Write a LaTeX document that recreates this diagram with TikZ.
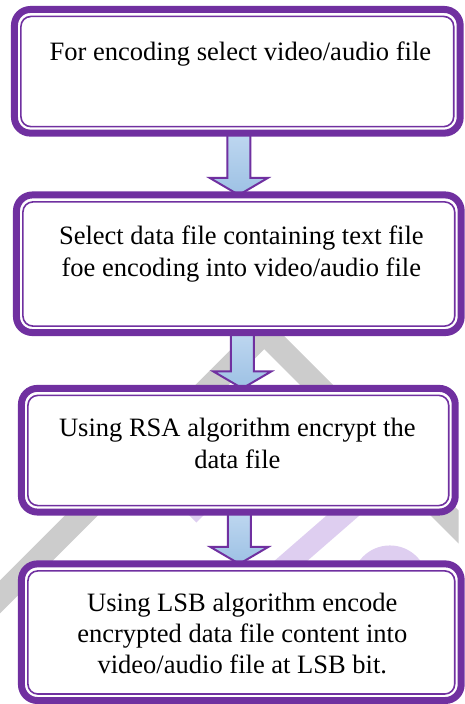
\documentclass[tikz,border=0pt]{standalone}
\usepackage{fontspec}
\setmainfont{Liberation Serif}[Ligatures=TeX]
\newfontfamily\stepfont{Liberation Serif}
\usetikzlibrary{calc,backgrounds}
\definecolor{boxpurple}{RGB}{112,48,160}
\definecolor{arrtop}{RGB}{190,215,240}
\definecolor{arrbot}{RGB}{157,193,228}
\definecolor{wmgray}{RGB}{204,204,204}
\definecolor{wmlav}{RGB}{222,206,240}
\tikzset{
  flowbox/.style={rectangle, rounded corners=16pt, draw=boxpurple, line width=7pt,
    fill=white, inner sep=0pt, outer sep=0pt},
  innerline/.style={draw=boxpurple, line width=1.6pt, rounded corners=10pt},
  flowarr/.style={draw=boxpurple, line width=2pt, line join=miter,
    top color=arrtop, bottom color=arrbot},
  steptext/.style={anchor=north, inner sep=0pt, align=center,
    font=\stepfont\fontsize{26.6}{32}\selectfont},
}
% block arrow: from anchor #1 (x shifted by #3 pt) down to tip at anchor #2
\newcommand{\flowarrow}[3]{%
  \filldraw[flowarr] let \p1=($(#1)+(#3pt,0pt)$), \p2=(#2) in
    (\x1-11.5pt,\y1) -- (\x1+11.5pt,\y1) -- (\x1+11.5pt,\y2+17pt)
    -- (\x1+29pt,\y2+17pt) -- (\x1,\y2) -- (\x1-29pt,\y2+17pt)
    -- (\x1-11.5pt,\y2+17pt) -- cycle;}
\begin{document}
\begin{tikzpicture}[x=1pt,y=-1pt]
\begin{pgfonlayer}{background}
  \path[use as bounding box, fill=white] (0,0) rectangle (460,704);
  \begin{scope}
    \clip (0,0) rectangle (460,704);
    \fill[wmgray] (265,317) -- (688,740) -- (655,740) -- (265,350)
      -- (-125,740) -- (-158,740) -- cycle;
    \fill[wmlav] (370,480) -- (403,480) -- (265,600) -- (232,600) -- cycle;
    \fill[wmlav] (391,585) circle[radius=38pt];
    \fill[wmlav] (188,515) -- (206,515) -- (197,524) -- cycle;
  \end{scope}
\end{pgfonlayer}

\node[flowbox, minimum width=447pt, minimum height=124pt] (b1) at (238,71.5) {};
\node[flowbox, minimum width=446pt, minimum height=138pt] (b2) at (239.5,264.5) {};
\node[flowbox, minimum width=435pt, minimum height=124pt] (b3) at (239,451.5) {};
\node[flowbox, minimum width=441pt, minimum height=137pt] (b4) at (242,634) {};

\foreach \b in {b1,b2,b3,b4}
  \draw[innerline] ([shift={(6.5pt,-7pt)}]\b.north west) rectangle
                   ([shift={(-6.5pt,6.5pt)}]\b.south east);

\begin{pgfonlayer}{background}
  \flowarrow{b1.south}{b2.north}{1.5}
  \flowarrow{b2.south}{b3.north}{3.5}
  \flowarrow{b3.south}{b4.north}{1}
\end{pgfonlayer}

\node[steptext] (t1) at (241,37.6) {\strut For encoding select video/audio file};
\node[steptext] (t2) at (242,222.6) {\strut Select data file containing text file\\
  foe encoding into video/audio file};
\node[steptext] (t3) at (238,415.6) {\strut Using RSA algorithm encrypt the\\ data file};
\node[steptext, font=\stepfont\fontsize{26.6}{31}\selectfont] (t4) at (243,591.3)
  {\strut Using LSB algorithm encode\\ encrypted data file content into\\
   video/audio file at LSB bit.};
\end{tikzpicture}
\end{document}
